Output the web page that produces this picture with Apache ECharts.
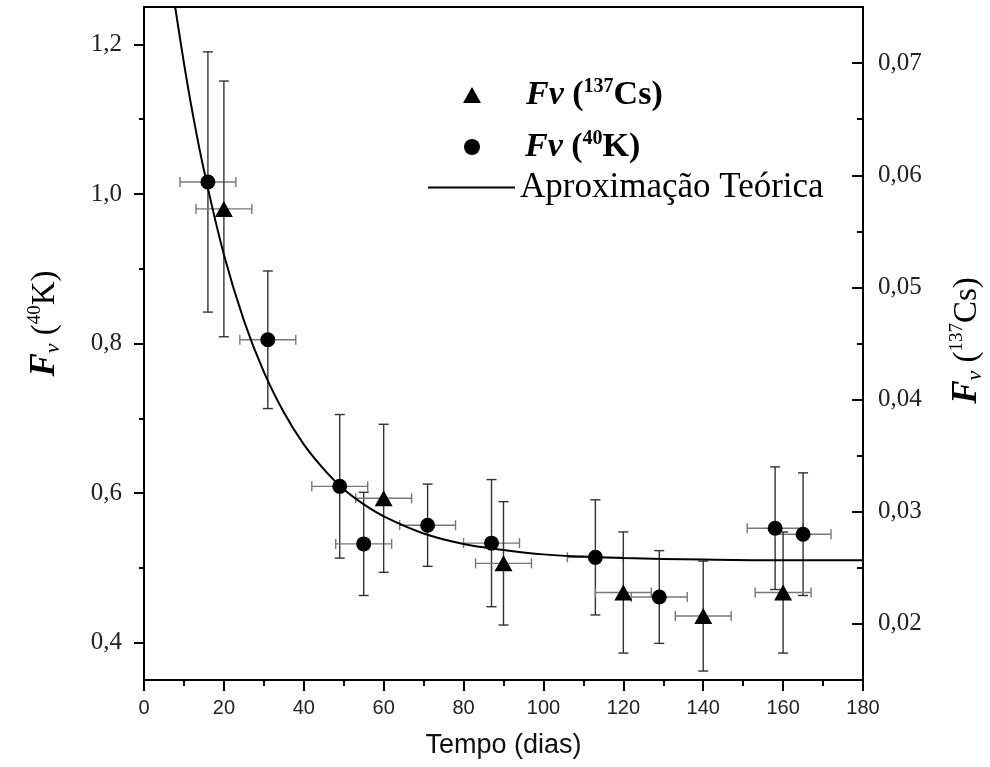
<!DOCTYPE html>
<html>
<head>
<meta charset="utf-8">
<script src="https://cdn.jsdelivr.net/npm/echarts@6/dist/echarts.min.js"></script>
<style>
html,body{margin:0;padding:0;background:#fff;}
#chart{width:990px;height:767px;}
</style>
</head>
<body>
<div id="chart"></div>
<script>
// ---- data ----
// 40K (circles, left axis)
const kDays   = [16, 31, 49, 55, 71, 87, 113, 129, 158, 165];
const kValues = [1.016, 0.805, 0.609, 0.532, 0.557, 0.533, 0.514, 0.461, 0.553, 0.545];
const kErr    = [0.174, 0.092, 0.096, 0.069, 0.055, 0.085, 0.077, 0.062, 0.082, 0.082];
// 137Cs (triangles, right axis)
const csDays   = [20, 60, 90, 120, 140, 160];
const csValues = [0.0570, 0.0312, 0.0254, 0.0228, 0.0207, 0.0228];
const csErr    = [0.0114, 0.0066, 0.0055, 0.0054, 0.0049, 0.0054];
// horizontal (time) error
const dayErr = [7, 7, 7, 7, 7, 7, 7, 7, 7, 7];
// theoretical curve
const curveDays   = [7.8, 10, 12, 15, 20, 25, 30, 35, 40, 45, 50, 55, 60, 70, 80, 90, 100, 110, 120, 140, 160, 180];
const curveValues = [1.250, 1.175, 1.113, 1.032, 0.919, 0.831, 0.762, 0.708, 0.665, 0.632, 0.605, 0.585, 0.569, 0.546, 0.532, 0.524, 0.518, 0.515, 0.513, 0.511, 0.510, 0.510];
// axis ticks
const xTicks      = [0, 20, 40, 60, 80, 100, 120, 140, 160, 180];
const leftTicks   = [0.4, 0.6, 0.8, 1.0, 1.2];
const leftMinor   = [0.5, 0.7, 0.9, 1.1];
const rightTicks  = [0.02, 0.03, 0.04, 0.05, 0.06, 0.07];
const rightMinor  = [0.025, 0.035, 0.045, 0.055, 0.065];

const SERIF = 'Liberation Serif';
const SANS = 'Liberation Sans';

const kData = kDays.map((d, i) => [d, kValues[i], dayErr[i], kErr[i]]);
const csData = csDays.map((d, i) => [d, csValues[i], dayErr[i], csErr[i]]);

function errRender(params, api) {
  const x = api.value(0), y = api.value(1), ex = api.value(2), ey = api.value(3);
  const c = api.coord([x, y]);
  const t = api.coord([x, y + ey]);
  const b = api.coord([x, y - ey]);
  const l = api.coord([x - ex, y]);
  const r = api.coord([x + ex, y]);
  const cap = 5;
  const vs = { stroke: '#333', lineWidth: 1.4 };
  const hs = { stroke: '#777', lineWidth: 1.4 };
  return {
    type: 'group',
    children: [
      { type: 'line', shape: { x1: c[0], y1: t[1], x2: c[0], y2: b[1] }, style: vs },
      { type: 'line', shape: { x1: c[0] - cap, y1: t[1], x2: c[0] + cap, y2: t[1] }, style: vs },
      { type: 'line', shape: { x1: c[0] - cap, y1: b[1], x2: c[0] + cap, y2: b[1] }, style: vs },
      { type: 'line', shape: { x1: l[0], y1: c[1], x2: r[0], y2: c[1] }, style: hs },
      { type: 'line', shape: { x1: l[0], y1: c[1] - cap, x2: l[0], y2: c[1] + cap }, style: hs },
      { type: 'line', shape: { x1: r[0], y1: c[1] - cap, x2: r[0], y2: c[1] + cap }, style: hs }
    ]
  };
}

const legRich = {
  g: { width: 40 },
  F: { fontFamily: SERIF, fontSize: 34, fontWeight: 'bold', fontStyle: 'italic', color: '#000', lineHeight: 36 },
  p: { fontFamily: SERIF, fontSize: 34, fontWeight: 'bold', color: '#000', lineHeight: 36 },
  s: { fontFamily: SERIF, fontSize: 20, fontWeight: 'bold', color: '#000', lineHeight: 22, verticalAlign: 'top' },
  t: { fontFamily: SERIF, fontSize: 35, color: '#000', lineHeight: 36 }
};

const axRich = {
  F: { fontFamily: SERIF, fontSize: 35, fontWeight: 'bold', fontStyle: 'italic', color: '#000', lineHeight: 38 },
  v: { fontFamily: SERIF, fontSize: 22, fontStyle: 'italic', color: '#000', lineHeight: 20, verticalAlign: 'bottom' },
  p: { fontFamily: SERIF, fontSize: 33, color: '#000', lineHeight: 38 },
  s: { fontFamily: SERIF, fontSize: 19, color: '#000', lineHeight: 20, verticalAlign: 'top' }
};

const baseY = {
  type: 'value',
  splitLine: { show: false },
  axisLine: { show: true, lineStyle: { color: '#000', width: 2 } }
};

const option = {
  animation: false,
  backgroundColor: '#fff',
  grid: { left: 144, right: 127, top: 7, bottom: 87, containLabel: false, outerBoundsMode: 'none',
    show: true, borderColor: '#000', borderWidth: 2, backgroundColor: 'transparent' },
  legend: [
    {
      data: ['Cs'], left: 463, top: 77, padding: 0, itemWidth: 18, itemHeight: 16, selectedMode: false,
      formatter: () => '{g|}{F|Fv}{p| (}{s|137}{p|Cs)}', textStyle: { rich: legRich }
    },
    {
      data: ['K'], left: 464, top: 129, padding: 0, itemWidth: 16, itemHeight: 16, selectedMode: false,
      formatter: () => '{g|}{F|Fv}{p| (}{s|40}{p|K)}', textStyle: { rich: legRich }
    },
    {
      data: [{ name: 'Teo', icon: 'rect' }], left: 428, top: 170, padding: 0, itemWidth: 87, itemHeight: 2, selectedMode: false,
      formatter: () => '{t|Aproximação Teórica}', textStyle: { rich: legRich }
    }
  ],
  xAxis: [{
    type: 'value', min: 0, max: 180, interval: 20,
    splitLine: { show: false },
    axisLine: { lineStyle: { color: '#000', width: 2 } },
    axisTick: { length: 11, lineStyle: { color: '#000', width: 2 } },
    minorTick: { show: true, splitNumber: 2, length: 6, lineStyle: { color: '#000', width: 2 } },
    axisLabel: { fontFamily: SANS, fontSize: 20, color: '#222', margin: 18,
      customValues: xTicks },
    name: 'Tempo (dias)', nameLocation: 'middle', nameGap: 52,
    nameTextStyle: { fontFamily: SANS, fontSize: 27, color: '#111' }
  }],
  yAxis: [
    Object.assign({}, baseY, {
      position: 'left', min: 0.35, max: 1.25,
      axisTick: { show: true, length: 10, customValues: leftTicks, lineStyle: { color: '#000', width: 2 } },
      axisLabel: { customValues: leftTicks, margin: 22, fontFamily: SERIF, fontSize: 25, color: '#222',
        formatter: v => v.toFixed(1).replace('.', ',') },
      name: '{F|F}{v|v}{p| (}{s|40}{p|K)}', nameLocation: 'middle', nameRotate: 90, nameGap: 80,
      nameTextStyle: { rich: axRich, padding: [0, 0, 0, 40] }
    }),
    Object.assign({}, baseY, {
      position: 'right', min: 0.015, max: 0.075,
      axisTick: { show: true, inside: true, length: 11, customValues: rightTicks, lineStyle: { color: '#000', width: 2 } },
      axisLabel: { customValues: rightTicks, margin: 15, fontFamily: SERIF, fontSize: 25, color: '#222',
        formatter: v => v.toFixed(2).replace('.', ',') },
      name: '{F|F}{v|v}{p| (}{s|137}{p|Cs)}', nameLocation: 'middle', nameRotate: 90, nameGap: 85,
      nameTextStyle: { rich: axRich, padding: [0, 0, 0, 6] }
    }),
    Object.assign({}, baseY, {
      position: 'left', min: 0.35, max: 1.25,
      axisLine: { show: false },
      axisTick: { show: true, length: 5, customValues: leftMinor, lineStyle: { color: '#000', width: 2 } },
      axisLabel: { show: false }
    }),
    Object.assign({}, baseY, {
      position: 'right', min: 0.015, max: 0.075,
      axisLine: { show: false },
      axisTick: { show: true, inside: true, length: 6, customValues: rightMinor, lineStyle: { color: '#000', width: 2 } },
      axisLabel: { show: false }
    })
  ],
  series: [
    { type: 'custom', name: 'errK', xAxisIndex: 0, yAxisIndex: 0, renderItem: errRender, data: kData,
      encode: { x: 0, y: 1 }, z: 2, silent: true },
    { type: 'custom', name: 'errCs', xAxisIndex: 0, yAxisIndex: 1, renderItem: errRender, data: csData,
      encode: { x: 0, y: 1 }, z: 2, silent: true },
    { type: 'line', name: 'Teo', xAxisIndex: 0, yAxisIndex: 0, smooth: 0.4, symbol: 'none',
      data: curveDays.map((d, i) => [d, curveValues[i]]),
      lineStyle: { color: '#000', width: 2 }, itemStyle: { color: '#000' }, z: 3 },
    { type: 'scatter', name: 'K', xAxisIndex: 0, yAxisIndex: 0, symbol: 'circle', symbolSize: 15,
      data: kDays.map((d, i) => [d, kValues[i]]), itemStyle: { color: '#000', opacity: 1 }, z: 4 },
    { type: 'scatter', name: 'Cs', xAxisIndex: 0, yAxisIndex: 1, symbol: 'triangle', symbolSize: [18, 16],
      data: csDays.map((d, i) => [d, csValues[i]]), itemStyle: { color: '#000', opacity: 1 }, z: 4 }
  ]
};

const chart = echarts.init(document.getElementById('chart'));
chart.setOption(option);
</script>
</body>
</html>
